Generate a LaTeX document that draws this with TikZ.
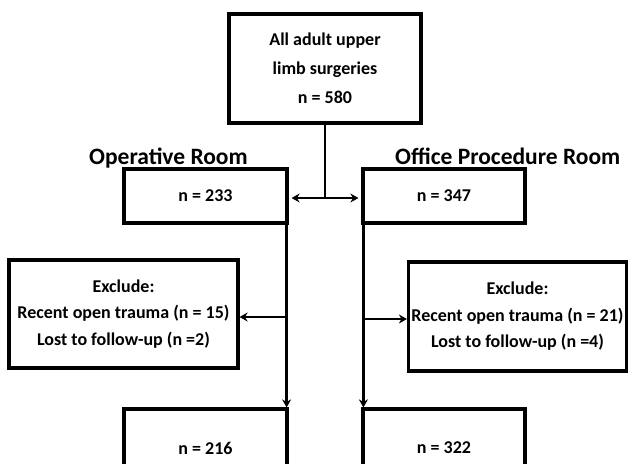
\documentclass[tikz,border=0pt]{standalone}
\usepackage{fontspec}
\setmainfont{Carlito}
\usetikzlibrary{arrows.meta,calc}
\begin{document}
\begin{tikzpicture}[x=1pt,y=-1pt,
  box/.style={draw=black,line width=3.2pt,fill=white,inner sep=0pt,align=center,
    font=\bfseries\fontsize{18}{29}\selectfont},
  conn/.style={draw=black,line width=2.7pt},
  tip/.style={-{Stealth[length=8pt,width=9pt]}},
  head/.style={font=\bfseries\fontsize{23.5}{28}\selectfont,inner sep=0pt,anchor=base west}]
\clip (0,0) rectangle (628,463);
\fill[white] (0,0) rectangle (628,463);
% boxes
\node[box,minimum width=192pt,minimum height=109pt] (top) at (325,68.5)
  {All adult upper\\limb surgeries\\n = 580};
\node[box,minimum width=163pt,minimum height=54pt] (or) at (205.5,196) {n = 233};
\node[box,minimum width=162pt,minimum height=54pt] (op) at (444,196) {n = 347};
\node[box,minimum width=229pt,minimum height=108pt,font=\bfseries\fontsize{18}{26.5}\selectfont] (exL) at (123.5,314)
  {Exclude:\\Recent open trauma (n = 15)\\Lost to follow-up (n =2)};
\node[box,minimum width=218pt,minimum height=109pt,font=\bfseries\fontsize{18}{26.5}\selectfont] (exR) at (517.5,316.5)
  {Exclude:\\Recent open trauma (n = 21)\\Lost to follow-up (n =4)};
\node[box,minimum width=163pt,minimum height=78pt] (fL) at (205.5,448) {n = 216};
\node[box,minimum width=162pt,minimum height=78pt] (fR) at (444,448) {n = 322};
% headings
\node[head] (hL) at (89,164) {Operative Room};
\node[head] (hR) at (395,164) {Office Procedure Room};
% connectors
\coordinate (j) at (top.south |- 0,198);
\draw[conn] (top.south) -- (j);
\draw[conn,{Stealth[length=8pt,width=9pt]}-{Stealth[length=8pt,width=9pt]}]
  ($(or.east |- j)+(3,0)$) -- ($(op.west |- j)+(-3,0)$);
\coordinate (lt) at ($(or.south east)+(-2,0)$);
\coordinate (lb) at ($(fL.north east)+(-2,0)$);
\coordinate (rt) at ($(op.south west)+(2,0)$);
\coordinate (rb) at ($(fR.north west)+(2,0)$);
\draw[conn,tip] (lt) -- (lb);
\draw[conn,tip] (rt) -- (rb);
\coordinate (lm) at (lt |- 0,317);
\coordinate (rm) at (rt |- 0,319);
\draw[conn,tip] (lm) -- (exL.east |- lm);
\draw[conn,tip] (rm) -- (exR.west |- rm);
\end{tikzpicture}
\end{document}
